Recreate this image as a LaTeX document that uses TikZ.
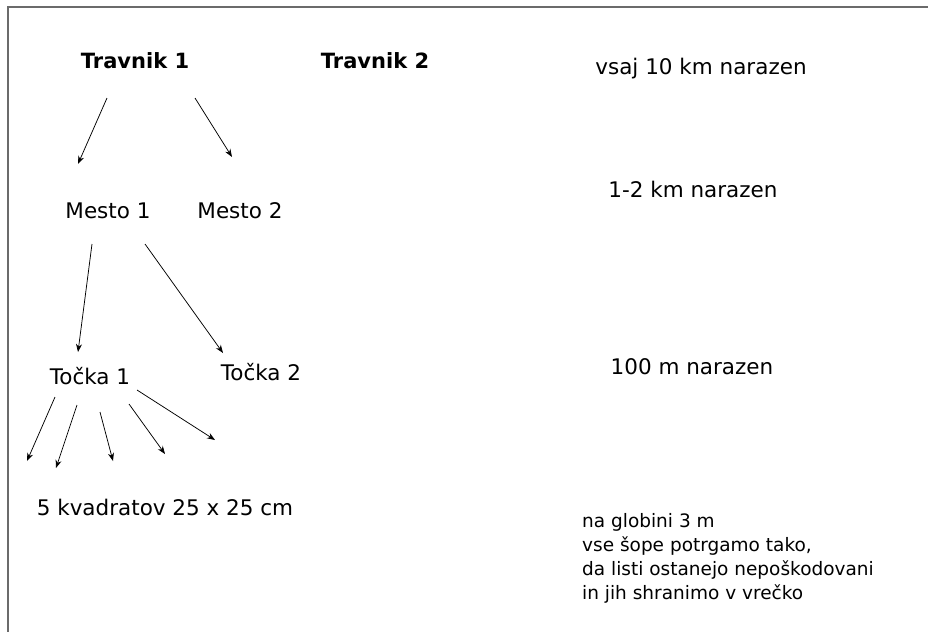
\documentclass[tikz,border=0pt]{standalone}
\usepackage{fontspec}
\setmainfont{DejaVu Sans}
\usetikzlibrary{arrows.meta}
\begin{document}
\begin{tikzpicture}[x=1pt,y=-1pt,
  lbl/.style={anchor=base,inner sep=0pt,font=\fontsize{21.5}{24}\selectfont},
  head/.style={anchor=base,inner sep=0pt,font=\fontsize{21}{24}\selectfont\bfseries},
  notetext/.style={anchor=base west,inner sep=0pt,align=left,font=\fontsize{18.5}{24}\selectfont},
  arr/.style={draw=black,line width=0.75pt,-{Stealth[length=8pt,width=6pt]}},
  frame/.style={draw=black!58,line width=2pt}]
\useasboundingbox (0,0) rectangle (928,632);
% frame lines along the top and left edges
\draw[frame] (928,7) -- (8,7) -- (8,632);

% level titles
\node[head] (tr1) at (135,68) {Travnik 1};
\node[head] (tr2) at (375,68) {Travnik 2};
\node[lbl] (m1) at (108,218) {Mesto 1};
\node[lbl] (m2) at (240,218) {Mesto 2};
\node[lbl] (p1) at (90,384) {Točka 1};
\node[lbl] (p2) at (261,380) {Točka 2};
\node[lbl] (sq) at (165,515) {5 kvadratov 25 x 25 cm};

% distances
\node[lbl] (d1) at (701,74) {vsaj 10 km narazen};
\node[lbl] (d2) at (693,197) {1-2 km narazen};
\node[lbl] (d3) at (692,374) {100 m narazen};
\node[notetext] (note) at (582,599)
  {na globini 3 m\\vse šope potrgamo tako,\\da listi ostanejo nepoškodovani\\in jih shranimo v vrečko};

% connectors
\draw[arr] ([shift={(-28,30)}]tr1.base) -- ([shift={(-30,-54)}]m1.base);
\draw[arr] ([shift={(60,30)}]tr1.base) -- ([shift={(-8,-61)}]m2.base);
\draw[arr] ([shift={(-16,26)}]m1.base) -- ([shift={(-12,-32)}]p1.base);
\draw[arr] ([shift={(37,26)}]m1.base) -- ([shift={(-38,-27)}]p2.base);

% five sampling squares
\coordinate (q1) at (27,461);
\coordinate (q2) at (56,468);
\coordinate (q3) at (113,461);
\coordinate (q4) at (165,454);
\coordinate (q5) at (215,440);
\draw[arr] ([shift={(-35,13)}]p1.base) -- (q1);
\draw[arr] ([shift={(-13,21)}]p1.base) -- (q2);
\draw[arr] ([shift={(10,28)}]p1.base) -- (q3);
\draw[arr] ([shift={(39,20)}]p1.base) -- (q4);
\draw[arr] ([shift={(47,6)}]p1.base) -- (q5);
\end{tikzpicture}
\end{document}
